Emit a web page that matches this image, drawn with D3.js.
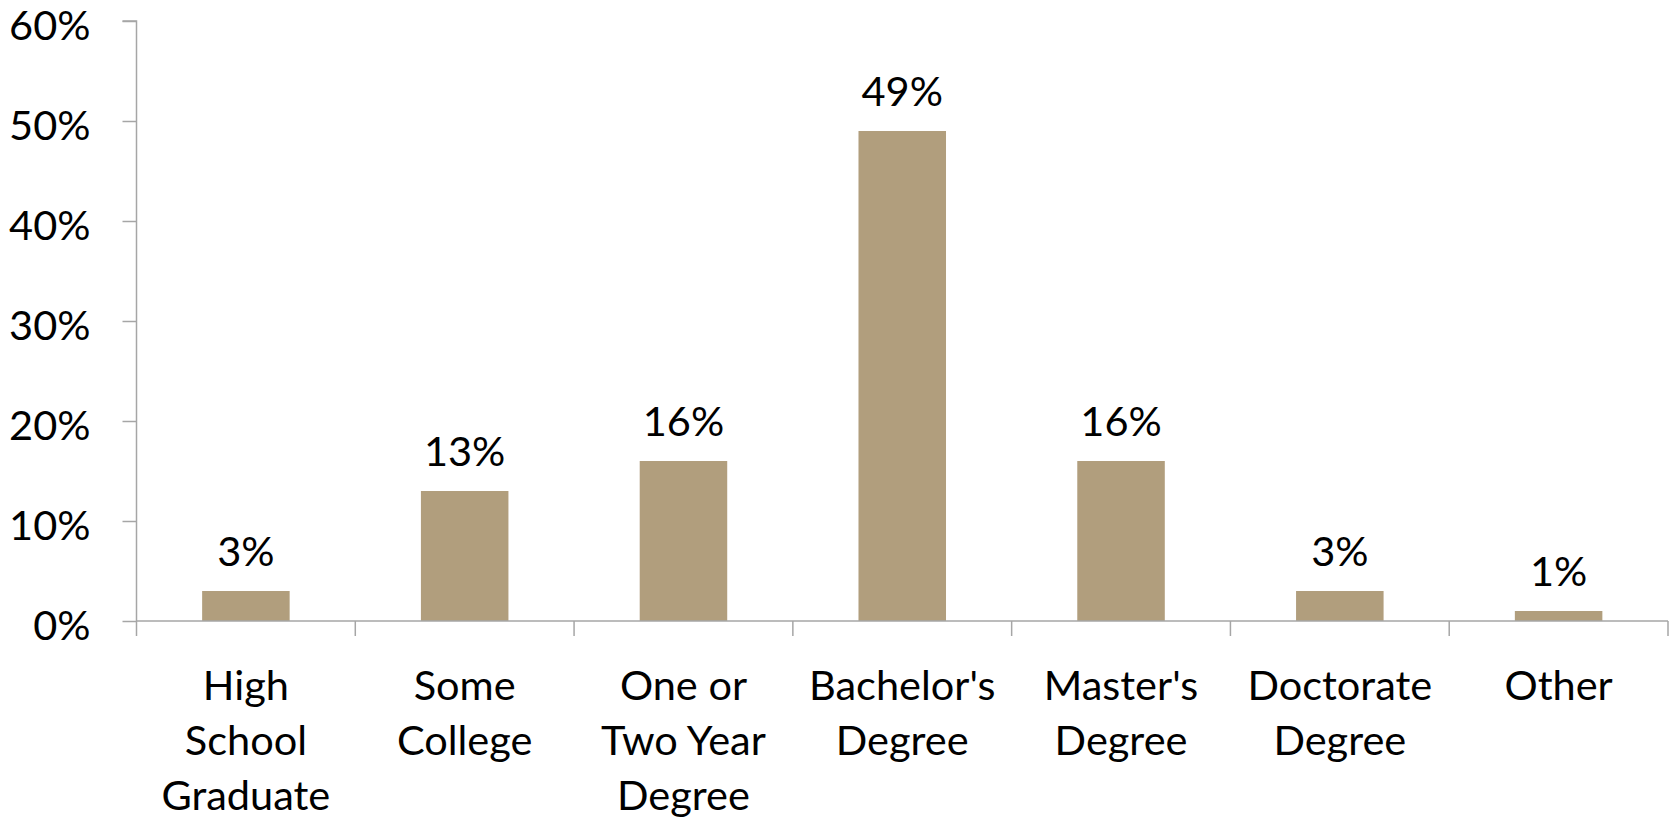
<!DOCTYPE html>
<html><head><meta charset="utf-8">
<script src="https://cdn.jsdelivr.net/npm/d3@7"></script>
<style>body{margin:0;background:#fff}svg{display:block}text{font-family:Lato,"Open Sans",sans-serif;fill:#000}</style>
</head><body>
<svg id="c" width="1678" height="822"></svg>
<script>
const categories = [["High","School","Graduate"],["Some","College"],["One or","Two Year","Degree"],["Bachelor's","Degree"],["Master's","Degree"],["Doctorate","Degree"],["Other"]];
const values = [3,13,16,49,16,3,1];
const yTicks = [0,10,20,30,40,50,60];

(function(){
const svg = d3.select("#c");
const pL = 136.5, pR = 1668, pT = 21, pB = 621;
const keys = categories.map((d,i)=>i);
const x = d3.scaleBand().domain(keys).range([pL,pR]).paddingInner(0.6).paddingOuter(0.3);
const xb = d3.scaleBand().domain(keys).range([pL,pR]);
const y = d3.scaleLinear().domain([0,60]).range([pB,pT]);
const axisColor = "#a6a6a6";
const fs = 41.5;

// bars
svg.selectAll("rect.bar").data(values).join("rect")
  .attr("x",(d,i)=>x(i)).attr("width",x.bandwidth())
  .attr("y",d=>y(d)).attr("height",d=>y(0)-y(d))
  .attr("fill","#b19e7d");

// y axis
const ya = svg.append("g").attr("transform",`translate(${pL},0)`)
  .call(d3.axisLeft(y).tickValues(yTicks).tickSize(14).tickFormat(d=>d+"%"));
ya.select(".domain").attr("stroke",axisColor).attr("stroke-width",1.5).attr("d",`M-14,${pT}H0V${pB}`);
ya.selectAll(".tick line").attr("stroke",axisColor).attr("stroke-width",1.5);
ya.selectAll(".tick text").attr("x",-46).attr("dy",null).attr("y",18).attr("font-size",fs)
  .style("font-family","Lato").attr("fill","#000");

// x axis
const xg = svg.append("g");
xg.append("line").attr("x1",pL).attr("x2",pR).attr("y1",pB).attr("y2",pB).attr("stroke",axisColor).attr("stroke-width",1.5);
const bounds = keys.map(k=>xb(k)).concat([pR]);
xg.selectAll("line.t").data(bounds).join("line").attr("class","t")
  .attr("x1",d=>d).attr("x2",d=>d).attr("y1",pB).attr("y2",pB+15).attr("stroke",axisColor).attr("stroke-width",1.5);

// category labels
const lab = svg.selectAll("text.cat").data(categories).join("text").attr("class","cat")
  .attr("text-anchor","middle").attr("font-size",fs)
  .attr("x",(d,i)=>xb(i)+xb.bandwidth()/2).attr("y",700);
lab.selectAll("tspan").data(d=>d).join("tspan")
  .attr("x",function(){return this.parentNode.getAttribute("x");})
  .attr("dy",(d,i)=>i===0?0:55).text(d=>d);

// value labels
svg.selectAll("text.val").data(values).join("text").attr("class","val")
  .attr("text-anchor","middle").attr("font-size",fs)
  .attr("x",(d,i)=>x(i)+x.bandwidth()/2).attr("y",d=>y(d)-25).text(d=>d+"%");
})();
</script>
</body></html>
